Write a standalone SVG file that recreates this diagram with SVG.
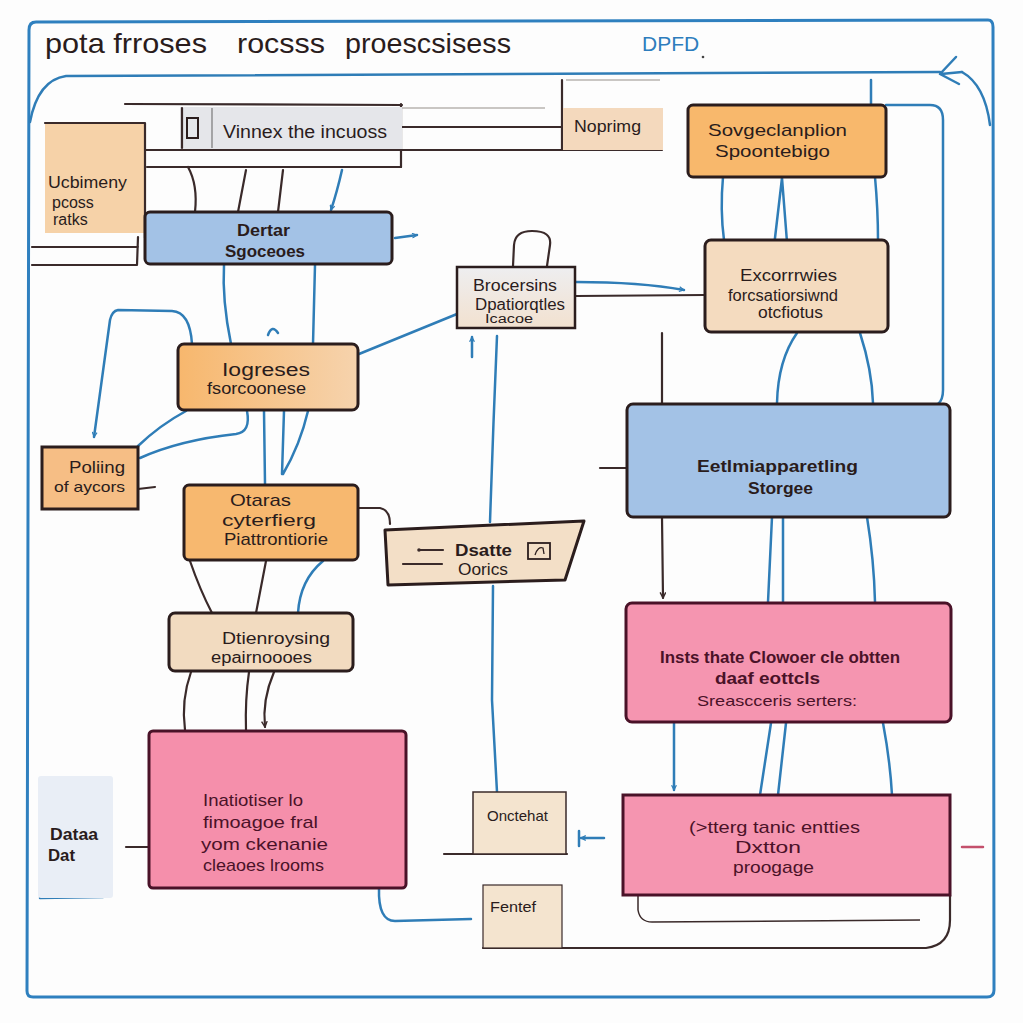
<svg xmlns="http://www.w3.org/2000/svg" width="1023" height="1023" viewBox="0 0 1023 1023">
<style>
text{font-family:"Liberation Sans",Arial,sans-serif;fill:#2a1c1c}
.t{font-size:16px}
.b{font-weight:bold}
.pk{fill:#4a1228}
.box{stroke:#2b1d1d;stroke-width:3}
.pkbox{stroke:#4a1228;stroke-width:3}
.blue{fill:none;stroke:#2f7db7;stroke-width:2.5;stroke-linecap:round;stroke-linejoin:round}
.dark{fill:none;stroke:#3a2a2a;stroke-width:2.2;stroke-linecap:round;stroke-linejoin:round}
.thin{fill:none;stroke:#3a2a2a;stroke-width:1.5}
.faint{fill:none;stroke:#b8b4b0;stroke-width:1.5}
</style>
<defs>
<marker id="ab" viewBox="0 0 10 10" refX="9" refY="5" markerWidth="6" markerHeight="6" orient="auto-start-reverse" markerUnits="userSpaceOnUse">
<path d="M1,1 L9,5 L1,9" fill="none" stroke="#2f7db7" stroke-width="2"/>
</marker>
<marker id="ad" viewBox="0 0 10 10" refX="9" refY="5" markerWidth="7" markerHeight="7" orient="auto" markerUnits="userSpaceOnUse">
<path d="M1,1 L9,5 L1,9" fill="none" stroke="#3a2a2a" stroke-width="2"/>
</marker>
<linearGradient id="gOr" x1="0" y1="0" x2="1" y2="0">
<stop offset="0" stop-color="#f7b76d"/><stop offset="1" stop-color="#f6d3ad"/>
</linearGradient>
<linearGradient id="gGr" x1="0" y1="0" x2="0" y2="1">
<stop offset="0" stop-color="#eeeef0"/><stop offset="1" stop-color="#f2e1cf"/>
</linearGradient>
</defs>

<rect width="1023" height="1023" fill="#fdfdfd"/>

<g id="frame">
<path d="M36,22 L988,20 Q993,20 993,27 L994,990 Q994,997 987,997 L33,997 Q27,997 27,991 L29,30 Q29,22 36,22 Z" fill="none" stroke="#2f80bf" stroke-width="3"/>
<text x="45" y="53" font-size="28" textLength="162" lengthAdjust="spacingAndGlyphs">pota frroses</text>
<text x="237" y="53" font-size="28" textLength="88" lengthAdjust="spacingAndGlyphs">rocsss</text>
<text x="345" y="53" font-size="28" textLength="166" lengthAdjust="spacingAndGlyphs">proescsisess</text>
<text x="642" y="51" font-size="21" style="fill:#2e7dbd">DPFD</text>
<circle cx="703" cy="57" r="1.3" fill="#444"/>
</g>

<g id="connectors">
<path class="blue" d="M30,122 Q38,80 66,76 L940,72"/>
<path class="blue" d="M956,57 L940,74 L959,84 M941,74 L962,72"/>
<path class="blue" d="M962,72 Q985,85 990,125"/>
<path class="blue" d="M886,105 L930,105 Q943,105 943,120 L943,390 Q943,400 938,404"/>
<path class="blue" d="M871,80 L871,105"/>

<path class="dark" d="M125,104 L402,105"/>
<path class="dark" d="M401,104 L401,167"/>
<path class="dark" d="M145,150 L662,150"/>
<path class="dark" d="M147,167 L401,167"/>
<path class="dark" d="M402,127 L562,127"/>
<path class="dark" d="M562,80 L562,150"/>
<path class="faint" d="M402,108 L545,108 M566,80 L660,80"/>
<path class="dark" d="M32,247 L138,247 M32,265 L136,265 M138,237 L137,265"/>

<path class="dark" d="M188,167 Q198,185 195,212"/>
<path class="dark" d="M246,170 L238,212"/>
<path class="dark" d="M283,170 L278,212"/>
<path class="blue" d="M342,170 Q337,192 331,210" marker-end="url(#ab)"/>
<path class="blue" d="M395,238 L417,235" marker-end="url(#ab)"/>
<path class="blue" d="M224,265 Q222,300 231,344"/>
<path class="blue" d="M315,265 L313,344"/>
<path class="blue" d="M268,335 Q272,324 278,333"/>
<path class="blue" d="M192,344 Q190,312 172,311 L118,310 Q112,311 110,320 L94,437" marker-end="url(#ab)"/>
<path class="blue" d="M186,411 Q160,425 138,446"/>
<path class="blue" d="M247,411 Q251,432 236,434 Q180,440 140,458"/>
<path class="blue" d="M264,411 L265,484"/>
<path class="blue" d="M284,411 Q283,445 282,474 M308,411 Q300,445 283,474"/>
<path class="dark" d="M138,489 L155,487"/>
<path class="blue" d="M359,354 L457,314"/>
<path class="dark" d="M513,266 L514,245 Q515,231 532,231 Q552,231 550,245 L547,266"/>
<path class="blue" d="M576,282 Q640,282 684,290" marker-end="url(#ab)"/>
<path class="dark" d="M576,296 L705,295"/>
<path class="blue" d="M472,357 L472,337" marker-end="url(#ab)"/>
<path class="blue" d="M497,336 Q493,430 490,522"/>
<path class="blue" d="M493,586 L492,700 L497,792"/>
<path class="dark" d="M357,508 L380,508 Q390,510 390,524"/>
<path class="dark" d="M190,561 Q200,590 212,613"/>
<path class="dark" d="M266,561 L256,613"/>
<path class="blue" d="M323,561 Q300,580 298,613"/>
<path class="dark" d="M191,672 Q181,700 185,730"/>
<path class="dark" d="M249,672 Q245,700 246,730"/>
<path class="dark" d="M274,672 Q262,700 265,727" marker-end="url(#ad)"/>
<path class="dark" d="M126,847 L150,847"/>
<path class="blue" d="M379,888 Q378,921 395,921 L471,919"/>
<path class="dark" d="M444,854 L567,854"/>
<path class="dark" d="M483,948 L926,948 Q950,945 950,920 L950,895"/>
<path class="thin" d="M638,895 L638,910 Q640,922 652,922 L920,920"/>
<path class="blue" d="M604,838 L581,838" marker-end="url(#ab)"/>
<path class="blue" d="M579,831 L579,846"/>
<path d="M962,847 L983,847" stroke="#c4506c" stroke-width="2.5" stroke-linecap="round"/>
<path class="blue" d="M40,898 L103,897"/>

<path class="blue" d="M723,177 Q720,210 724,240"/>
<path class="blue" d="M782,178 L773,255 M782,178 L788,255"/>
<path class="blue" d="M875,177 Q878,210 878,240"/>
<path class="blue" d="M797,333 Q778,360 777,403"/>
<path class="blue" d="M860,333 Q872,370 873,403"/>
<path class="dark" d="M662,333 L662,403"/>
<path class="dark" d="M600,468 L627,468"/>
<path class="dark" d="M662,517 L663,598" marker-end="url(#ad)"/>
<path class="blue" d="M772,517 L768,602"/>
<path class="blue" d="M783,517 L783,602"/>
<path class="blue" d="M867,517 Q874,560 875,602"/>
<path class="blue" d="M674,723 L674,790" marker-end="url(#ab)"/>
<path class="blue" d="M771,723 L760,795"/>
<path class="blue" d="M786,723 L778,795"/>
<path class="blue" d="M883,723 Q890,760 892,795"/>
</g>

<g id="n-ucbimeny">
<rect x="45" y="123" width="100" height="110" fill="#f6d2a8"/>
<path class="dark" d="M45,123 L145,123 L145,238" stroke-width="2.5"/>
<text class="t" x="48" y="188" textLength="79" lengthAdjust="spacingAndGlyphs">Ucbimeny</text>
<text class="t" x="52" y="208">pcoss</text>
<text class="t" x="53" y="225" font-size="15">ratks</text>
</g>

<g id="n-vinnex">
<rect x="180" y="107" width="222" height="42" fill="#e5e6ea"/>
<path class="dark" d="M182,108 L182,148"/>
<path d="M212,108 L212,148" stroke="#777" stroke-width="1.2"/>
<rect x="187" y="118" width="11" height="20" fill="none" stroke="#2b1d1d" stroke-width="2"/>
<text x="223" y="138" font-size="18" textLength="164" lengthAdjust="spacingAndGlyphs">Vinnex the incuoss</text>
</g>

<g id="n-noprimg">
<rect x="563" y="108" width="100" height="42" fill="#f4d9bd"/>
<text class="t" x="574" y="132" textLength="67" lengthAdjust="spacingAndGlyphs">Noprimg</text>
</g>

<g id="n-sovgeclanplion">
<rect class="box" x="688" y="105" width="198" height="72" rx="5" fill="#f8b86c"/>
<text x="708" y="136" font-size="17" textLength="139" lengthAdjust="spacingAndGlyphs">Sovgeclanplion</text>
<text x="715" y="157" font-size="17" textLength="115" lengthAdjust="spacingAndGlyphs">Spoontebigo</text>
</g>

<g id="n-dertar">
<rect class="box" x="145" y="212" width="247" height="52" rx="5" fill="#a3c2e6"/>
<text class="t b" x="237" y="236" textLength="53" lengthAdjust="spacingAndGlyphs">Dertar</text>
<text class="t b" x="225" y="257" textLength="80" lengthAdjust="spacingAndGlyphs">Sgoceoes</text>
</g>

<g id="n-brocersins">
<rect x="457" y="267" width="118" height="61" fill="url(#gGr)" stroke="#2b1d1d" stroke-width="2.5"/>
<text class="t" x="473" y="291" textLength="84" lengthAdjust="spacingAndGlyphs">Brocersins</text>
<text x="475" y="310" font-size="16" textLength="90" lengthAdjust="spacingAndGlyphs">Dpatiorqtles</text>
<text x="485" y="323" font-size="12" textLength="48" lengthAdjust="spacingAndGlyphs">Icacoe</text>
</g>

<g id="n-excorrrwies">
<rect class="box" x="705" y="240" width="183" height="92" rx="6" fill="#f4dbbf"/>
<text class="t" x="740" y="281" textLength="97" lengthAdjust="spacingAndGlyphs">Excorrrwies</text>
<text class="t" x="728" y="301" textLength="110" lengthAdjust="spacingAndGlyphs">forcsatiorsiwnd</text>
<text class="t" x="758" y="318" textLength="65" lengthAdjust="spacingAndGlyphs">otcfiotus</text>
</g>

<g id="n-iogreses">
<rect class="box" x="178" y="344" width="180" height="66" rx="6" fill="url(#gOr)"/>
<text x="222" y="376" font-size="18" textLength="88" lengthAdjust="spacingAndGlyphs">Iogreses</text>
<text class="t" x="207" y="394" textLength="99" lengthAdjust="spacingAndGlyphs">fsorcoonese</text>
</g>

<g id="n-poliing">
<rect class="box" x="42" y="447" width="96" height="62" fill="#f6be85"/>
<text class="t" x="69" y="473" textLength="56" lengthAdjust="spacingAndGlyphs">Poliing</text>
<text x="54" y="492" font-size="15" textLength="71" lengthAdjust="spacingAndGlyphs">of aycors</text>
</g>

<g id="n-otaras">
<rect class="box" x="184" y="485" width="174" height="75" rx="5" fill="#f7b86f"/>
<text x="230" y="506" font-size="17" textLength="61" lengthAdjust="spacingAndGlyphs">Otaras</text>
<text x="222" y="526" font-size="17" textLength="94" lengthAdjust="spacingAndGlyphs">cyterfierg</text>
<text x="224" y="545" font-size="17" textLength="104" lengthAdjust="spacingAndGlyphs">Piattrontiorie</text>
</g>

<g id="n-dsatte">
<path class="box" d="M385,530 L584,521 L565,580 L388,585 Z" fill="#f3dfc7" stroke-linejoin="round"/>
<path class="dark" d="M420,550 L443,550 M403,564 L442,564" stroke-width="1.8"/>
<circle cx="419" cy="550" r="1.8" fill="#3a2a2a"/>
<text x="455" y="556" font-size="17" class="b" textLength="57" lengthAdjust="spacingAndGlyphs">Dsatte</text>
<text class="t" x="458" y="575" textLength="50" lengthAdjust="spacingAndGlyphs">Oorics</text>
<rect x="528" y="543" width="22" height="16" fill="none" stroke="#2b1d1d" stroke-width="1.8"/>
<path d="M535,555 Q538,546 543,548 L544,554" fill="none" stroke="#2b1d1d" stroke-width="1.3"/>
</g>

<g id="n-storage">
<rect class="box" x="627" y="404" width="323" height="113" rx="6" fill="#a3c2e6"/>
<text x="697" y="472" font-size="17" class="b" textLength="161" lengthAdjust="spacingAndGlyphs">Eetlmiapparetling</text>
<text x="748" y="494" font-size="17" class="b" textLength="65" lengthAdjust="spacingAndGlyphs">Storgee</text>
</g>

<g id="n-dtienroysing">
<rect class="box" x="169" y="613" width="184" height="58" rx="6" fill="#f2dbc0"/>
<text x="222" y="644" font-size="17" textLength="108" lengthAdjust="spacingAndGlyphs">Dtienroysing</text>
<text class="t" x="211" y="663" textLength="101" lengthAdjust="spacingAndGlyphs">epairnoooes</text>
</g>

<g id="n-pink1">
<rect class="pkbox" x="626" y="603" width="325" height="119" rx="6" fill="#f595b0"/>
<text class="pk b" x="660" y="663" font-size="16" textLength="240" lengthAdjust="spacingAndGlyphs">Insts thate Clowoer cle obtten</text>
<text class="pk b" x="715" y="684" font-size="16" textLength="105" lengthAdjust="spacingAndGlyphs">daaf eottcls</text>
<text class="pk" x="697" y="706" font-size="15" textLength="160" lengthAdjust="spacingAndGlyphs">Sreascceris serters:</text>
</g>

<g id="n-pinkleft">
<rect class="pkbox" x="149" y="731" width="257" height="157" rx="4" fill="#f58fab"/>
<text class="pk" x="203" y="806" font-size="17" textLength="100" lengthAdjust="spacingAndGlyphs">Inatiotiser lo</text>
<text class="pk" x="203" y="828" font-size="17" textLength="115" lengthAdjust="spacingAndGlyphs">fimoagoe fral</text>
<text class="pk" x="201" y="850" font-size="17" textLength="127" lengthAdjust="spacingAndGlyphs">yom ckenanie</text>
<text class="pk" x="203" y="871" font-size="17" textLength="121" lengthAdjust="spacingAndGlyphs">cleaoes lrooms</text>
</g>

<g id="n-dataa">
<rect x="38" y="776" width="75" height="122" rx="3" fill="#e9eef6"/>
<text x="50" y="840" font-size="17" class="b" textLength="48" lengthAdjust="spacingAndGlyphs">Dataa</text>
<text x="48" y="861" font-size="17" class="b" textLength="27" lengthAdjust="spacingAndGlyphs">Dat</text>
</g>

<g id="n-onctehat">
<rect x="473" y="792" width="93" height="62" fill="#f4e4cf" stroke="#3a2a2a" stroke-width="1.5"/>
<text x="487" y="821" font-size="15" textLength="61" lengthAdjust="spacingAndGlyphs">Onctehat</text>
</g>

<g id="n-fentef">
<rect x="483" y="885" width="79" height="63" fill="#f4e4cf" stroke="#3a2a2a" stroke-width="1.2"/>
<text x="490" y="912" font-size="15" textLength="46" lengthAdjust="spacingAndGlyphs">Fentef</text>
</g>

<g id="n-pink2">
<rect class="pkbox" x="623" y="795" width="327" height="100" fill="#f595b0"/>
<text class="pk" x="689" y="833" font-size="17" textLength="171" lengthAdjust="spacingAndGlyphs">(&gt;tterg tanic entties</text>
<text class="pk" x="735" y="853" font-size="17" textLength="66" lengthAdjust="spacingAndGlyphs">Dxtton</text>
<text class="pk" x="733" y="873" font-size="17" textLength="81" lengthAdjust="spacingAndGlyphs">proogage</text>
</g>
</svg>
